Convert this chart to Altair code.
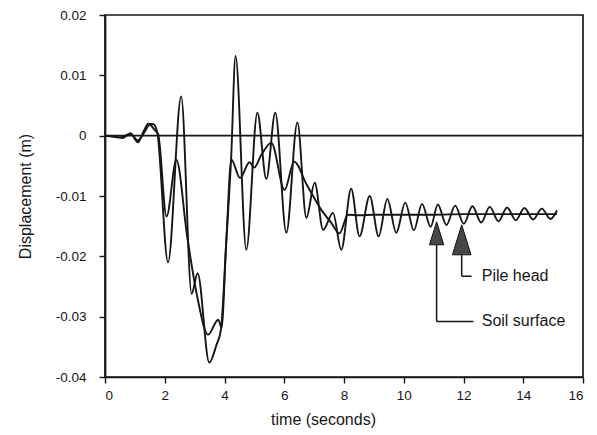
import altair as alt
import pandas as pd

# Soil surface displacement (oscillating trace)
soil_t = [0, 0.4, 0.6, 0.85, 1.1, 1.3, 1.45, 1.62, 1.75, 2.11, 2.55, 2.9, 3.1, 3.49, 3.73, 3.88,
          4.06, 4.22, 4.37, 4.73, 5.1, 5.4, 5.7, 6.07, 6.44, 6.74, 7.02, 7.3, 7.63, 7.91, 8.24,
          8.52, 8.86, 9.16, 9.45, 9.75, 10.05, 10.34, 10.61, 10.9, 11.14, 11.43, 11.72, 12.01,
          12.3, 12.59, 12.88, 13.17, 13.46, 13.75, 14.04, 14.33, 14.62, 14.91, 15.13]
soil_y = [0, -0.0002, -0.0004, 0.0004, -0.0011, 0.0008, 0.0020, 0.0019, 0.0005, -0.0210, 0.0065,
          -0.0262, -0.0228, -0.0376, -0.0347, -0.0322, -0.0175, -0.0040, 0.0132, -0.0189, 0.0038,
          -0.0072, 0.0038, -0.0161, 0.0022, -0.0136, -0.0078, -0.0156, -0.0128, -0.0189, -0.0088,
          -0.0167, -0.0100, -0.0167, -0.0105, -0.0161, -0.0111, -0.0157, -0.0113, -0.0151, -0.0114,
          -0.0148, -0.0116, -0.0146, -0.0117, -0.0144, -0.0118, -0.0142, -0.0119, -0.0140, -0.0120,
          -0.0139, -0.0121, -0.0138, -0.0124]

# Pile head displacement (smoother trace)
pile_t = [0, 0.5, 0.85, 1.1, 1.3, 1.5, 1.65, 1.78, 2.06, 2.39, 2.75, 3.1, 3.45, 3.79, 3.9, 4.06,
          4.23, 4.52, 4.84, 4.99, 5.23, 5.57, 6.01, 6.33, 6.74, 6.91, 7.24, 7.57, 7.85, 8.13, 8.5,
          9.0, 10.0, 11.0, 12.0, 13.0, 14.0, 15.13]
pile_y = [0, -0.0003, 0.0003, -0.0008, 0.0004, 0.0018, 0.0010, 0.0002, -0.0134, -0.0040, -0.0167,
          -0.0270, -0.0330, -0.0305, -0.0318, -0.0175, -0.0040, -0.0070, -0.0044, -0.0053, -0.0032,
          -0.0012, -0.0090, -0.0043, -0.0080, -0.0095, -0.0123, -0.0144, -0.0162, -0.0131, -0.0132,
          -0.0131, -0.0131, -0.0131, -0.0130, -0.0130, -0.0130, -0.0130]

x_ticks = list(range(0, 17))
y_ticks = [-0.04, -0.03, -0.02, -0.01, 0, 0.01, 0.02]

# Annotation arrows
arrow_labels = ["Soil surface", "Pile head"]
arrow_x = [11.10, 11.94]
head_y = [-0.01618, -0.01726]
head_size = [529, 900]
stem_top = [-0.0181, -0.0198]
stem_bottom = [-0.0308, -0.0233]
elbow_end = [12.33, 12.27]
label_x = [12.61, 12.61]

FONT = "Liberation Sans"
INK = "#161616"

lines_df = pd.concat([
    pd.DataFrame({"t": soil_t, "y": soil_y, "series": "Soil surface"}),
    pd.DataFrame({"t": pile_t, "y": pile_y, "series": "Pile head"}),
])
ann_df = pd.DataFrame({
    "label": arrow_labels, "ax": arrow_x, "hy": head_y, "hs": head_size,
    "st": stem_top, "sb": stem_bottom, "ee": elbow_end, "lx": label_x,
})
zero_df = pd.DataFrame({"y": [0]})

xs = alt.Scale(domain=[0, 16], nice=False)
ys = alt.Scale(domain=[-0.04, 0.02], nice=False, zero=False)

lines = alt.Chart(lines_df).mark_line(
    interpolate="monotone", color=INK, strokeWidth=1.9
).encode(
    x=alt.X("t:Q", scale=xs, axis=alt.Axis(
        values=x_ticks, title="time (seconds)",
        labelExpr="datum.value % 2 == 0 ? datum.label : ''",
        tickSize=6, labelPadding=5, grid=False,
        titleX=218, titleY=34, titleBaseline="top", titleAlign="center",
    )),
    y=alt.Y("y:Q", scale=ys, axis=alt.Axis(
        values=y_ticks, title="Displacement (m)",
        labelExpr="abs(datum.value) < 1e-9 ? '0' : (datum.value < 0 ? '-' : '') + format(abs(datum.value), '.2f')",
        tickSize=6, labelPadding=13, grid=False,
        titleX=-80, titleY=181, titleAngle=270, titleAlign="center", titleBaseline="middle",
    )),
    detail="series:N",
)

zero_line = alt.Chart(zero_df).mark_rule(color=INK, strokeWidth=1.7).encode(
    y=alt.Y("y:Q", scale=ys)
)

stems = alt.Chart(ann_df).mark_rule(color=INK, strokeWidth=1.5).encode(
    x=alt.X("ax:Q", scale=xs), y=alt.Y("st:Q", scale=ys), y2="sb:Q"
)
elbows = alt.Chart(ann_df).mark_rule(color=INK, strokeWidth=1.5).encode(
    x=alt.X("ax:Q", scale=xs), x2="ee:Q", y=alt.Y("sb:Q", scale=ys)
)
heads = alt.Chart(ann_df).mark_point(
    shape="M0,-1L0.62,1L-0.62,1Z", filled=True, fill="#474747", stroke="#111111",
    strokeWidth=1, opacity=1
).encode(
    x=alt.X("ax:Q", scale=xs), y=alt.Y("hy:Q", scale=ys),
    size=alt.Size("hs:Q", scale=None, legend=None),
)
labels = alt.Chart(ann_df).mark_text(
    align="left", baseline="middle", font=FONT, fontSize=16, color=INK
).encode(
    x=alt.X("lx:Q", scale=xs), y=alt.Y("sb:Q", scale=ys), text="label:N"
)

chart = alt.layer(lines, zero_line, stems, elbows, heads, labels).properties(
    width=478, height=362,
    autosize=alt.AutoSizeParams(type="none"),
    padding={"left": 97, "top": 7, "right": 2, "bottom": 52},
).configure_view(
    stroke=INK, strokeWidth=1.7
).configure_axis(
    domainColor=INK, domainWidth=1.7, tickColor=INK, tickWidth=1.4,
    labelFont=FONT, labelFontSize=13.5, labelColor=INK,
    titleFont=FONT, titleFontSize=16, titleFontWeight="normal", titleColor=INK,
)

chart.save("out.html", embed_options={"renderer": "svg", "actions": False})
